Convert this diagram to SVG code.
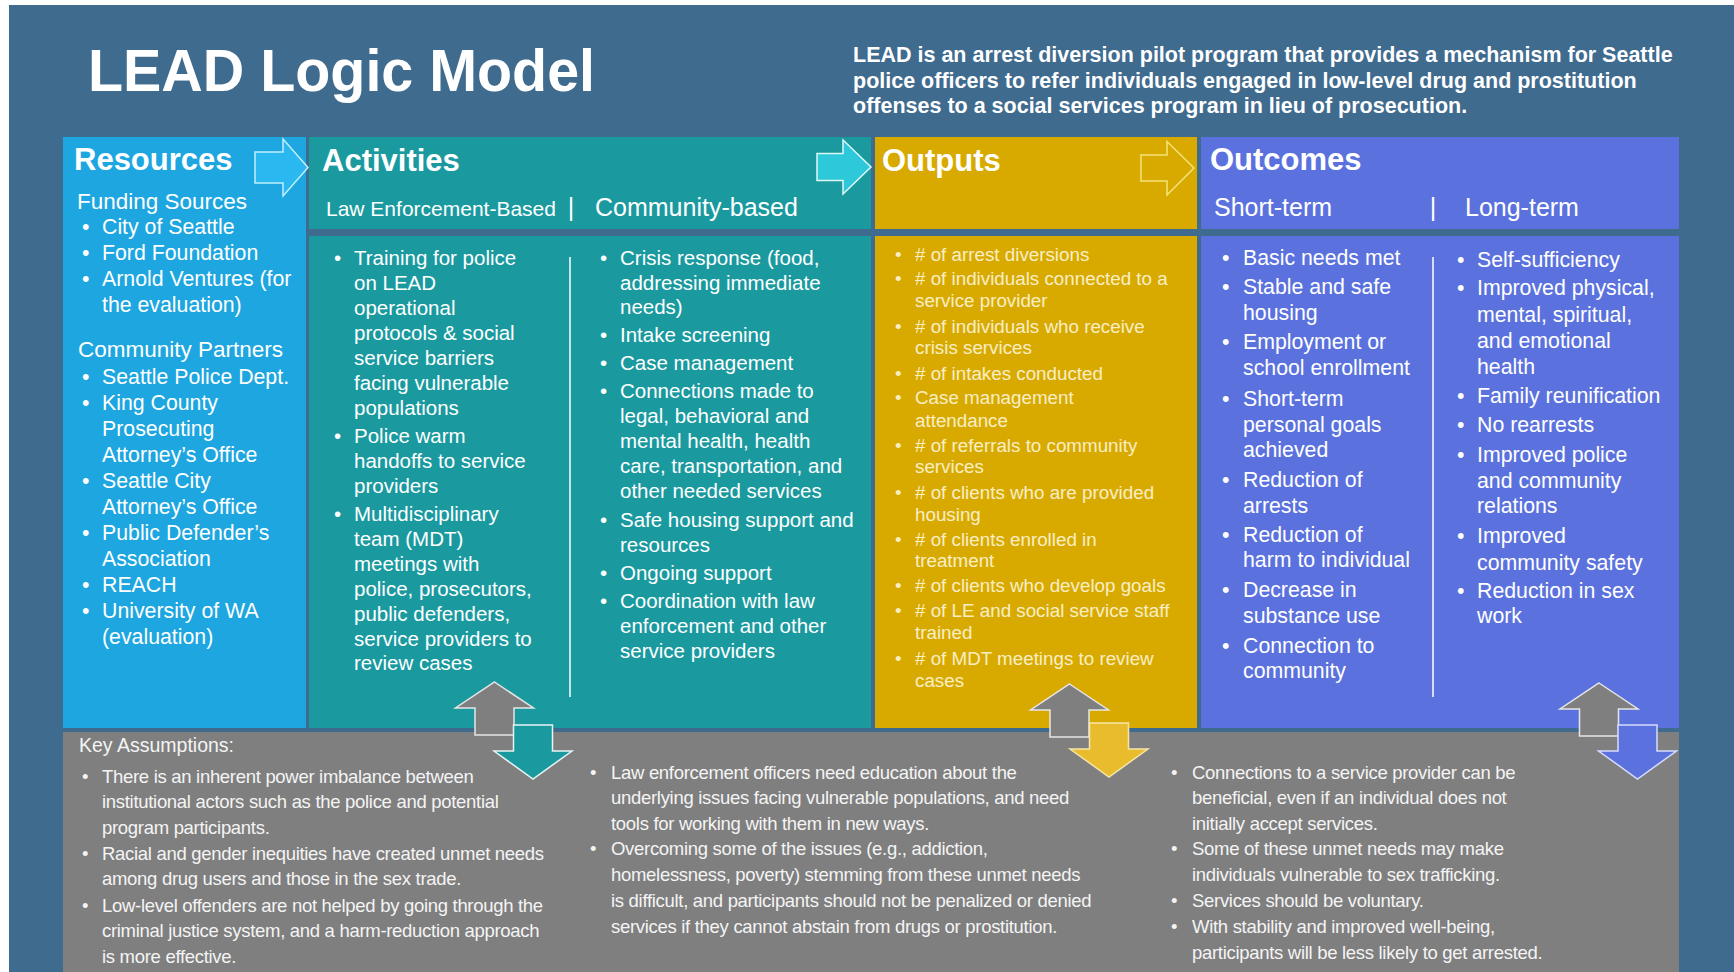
<svg xmlns="http://www.w3.org/2000/svg" width="1734" height="972" viewBox="0 0 1734 972">
<defs>
<style>
text{font-family:"Liberation Sans",Arial,sans-serif;fill:#FFFFFF}
.title{font-size:60px;font-weight:bold}
.desc{font-size:21.5px;font-weight:bold}
.hdr{font-size:31px;font-weight:bold}
.sub{font-size:22.5px}
.sub2{font-size:21px}
.sub3{font-size:25px}
.res{font-size:21.3px}
.act{font-size:20.5px}
.out{font-size:18.8px;fill:#F8EEC6}
.oc{font-size:21.3px}
.ka{font-size:18.5px;letter-spacing:-0.3px;fill:#F4F4F4}
.kah{font-size:19.5px;fill:#F4F4F4}
.sep{stroke:#FFFFFF;stroke-width:1.5}
.up{fill:#7F7F7F;stroke:#E6E6E6;stroke-width:1.5}
</style>
</defs>
<rect x="0" y="0" width="1734" height="972" fill="#FFFFFF"/>
<rect x="9" y="5" width="1725" height="967" fill="#3F6B8F"/>

<g id="title">
<text class="title" x="88" y="91" textLength="507" lengthAdjust="spacingAndGlyphs">LEAD Logic Model</text>
</g>

<g id="description">
<text class="desc" x="853" y="62">LEAD is an arrest diversion pilot program that provides a mechanism for Seattle</text>
<text class="desc" x="853" y="87.5">police officers to refer individuals engaged in low-level drug and prostitution</text>
<text class="desc" x="853" y="113">offenses to a social services program in lieu of prosecution.</text>
</g>

<g id="resources">
<rect x="63" y="137" width="243" height="591" fill="#1DA6E0"/>
<text class="hdr" x="74" y="170">Resources</text>
<text class="sub" x="77" y="209">Funding Sources</text>
<text class="res"><tspan x="82" y="234">•</tspan><tspan x="102" y="234">City of Seattle</tspan><tspan x="82" y="260">•</tspan><tspan x="102" y="260">Ford Foundation</tspan><tspan x="82" y="286">•</tspan><tspan x="102" y="286">Arnold Ventures (for</tspan><tspan x="102" y="312">the evaluation)</tspan></text>
<text class="sub" x="78" y="357">Community Partners</text>
<text class="res"><tspan x="82" y="384">•</tspan><tspan x="102" y="384">Seattle Police Dept.</tspan><tspan x="82" y="410">•</tspan><tspan x="102" y="410">King County</tspan><tspan x="102" y="436">Prosecuting</tspan><tspan x="102" y="462">Attorney’s Office</tspan><tspan x="82" y="488">•</tspan><tspan x="102" y="488">Seattle City</tspan><tspan x="102" y="514">Attorney’s Office</tspan><tspan x="82" y="540">•</tspan><tspan x="102" y="540">Public Defender’s</tspan><tspan x="102" y="566">Association</tspan><tspan x="82" y="592">•</tspan><tspan x="102" y="592">REACH</tspan><tspan x="82" y="618">•</tspan><tspan x="102" y="618">University of WA</tspan><tspan x="102" y="644">(evaluation)</tspan></text>
</g>

<g id="activities">
<rect x="309" y="137" width="562" height="92" fill="#1A9A9F"/>
<rect x="309" y="236" width="562" height="492" fill="#1A9A9F"/>
<text class="hdr" x="322" y="171">Activities</text>
<text class="sub2" x="326" y="216">Law Enforcement-Based</text>
<text class="sub3" x="571" y="216" text-anchor="middle">|</text>
<text class="sub3" x="595" y="216">Community-based</text>
<line class="sep" x1="570" y1="257" x2="570" y2="697"/>
<text class="act"><tspan x="334" y="265">•</tspan><tspan x="354" y="265">Training for police</tspan><tspan x="354" y="290">on LEAD</tspan><tspan x="354" y="315">operational</tspan><tspan x="354" y="340">protocols &amp; social</tspan><tspan x="354" y="365">service barriers</tspan><tspan x="354" y="390">facing vulnerable</tspan><tspan x="354" y="415">populations</tspan><tspan x="334" y="442.5">•</tspan><tspan x="354" y="442.5">Police warm</tspan><tspan x="354" y="467.5">handoffs to service</tspan><tspan x="354" y="492.5">providers</tspan><tspan x="334" y="521">•</tspan><tspan x="354" y="521">Multidisciplinary</tspan><tspan x="354" y="546">team (MDT)</tspan><tspan x="354" y="571">meetings with</tspan><tspan x="354" y="596">police, prosecutors,</tspan><tspan x="354" y="621">public defenders,</tspan><tspan x="354" y="645.5">service providers to</tspan><tspan x="354" y="670">review cases</tspan></text>
<text class="act"><tspan x="600" y="265">•</tspan><tspan x="620" y="265">Crisis response (food,</tspan><tspan x="620" y="289.5">addressing immediate</tspan><tspan x="620" y="314">needs)</tspan><tspan x="600" y="342">•</tspan><tspan x="620" y="342">Intake screening</tspan><tspan x="600" y="370">•</tspan><tspan x="620" y="370">Case management</tspan><tspan x="600" y="398">•</tspan><tspan x="620" y="398">Connections made to</tspan><tspan x="620" y="423">legal, behavioral and</tspan><tspan x="620" y="448">mental health, health</tspan><tspan x="620" y="473">care, transportation, and</tspan><tspan x="620" y="498">other needed services</tspan><tspan x="600" y="526.5">•</tspan><tspan x="620" y="526.5">Safe housing support and</tspan><tspan x="620" y="551.5">resources</tspan><tspan x="600" y="580">•</tspan><tspan x="620" y="580">Ongoing support</tspan><tspan x="600" y="608">•</tspan><tspan x="620" y="608">Coordination with law</tspan><tspan x="620" y="633">enforcement and other</tspan><tspan x="620" y="658">service providers</tspan></text>
</g>

<g id="outputs">
<rect x="875" y="137" width="322" height="92" fill="#D8AA00"/>
<rect x="875" y="236" width="322" height="492" fill="#D8AA00"/>
<text class="hdr" x="882" y="171">Outputs</text>
<text class="out"><tspan x="895" y="261">•</tspan><tspan x="915" y="261"># of arrest diversions</tspan><tspan x="895" y="285">•</tspan><tspan x="915" y="285"># of individuals connected to a</tspan><tspan x="915" y="307">service provider</tspan><tspan x="895" y="333">•</tspan><tspan x="915" y="333"># of individuals who receive</tspan><tspan x="915" y="354">crisis services</tspan><tspan x="895" y="380">•</tspan><tspan x="915" y="380"># of intakes conducted</tspan><tspan x="895" y="404">•</tspan><tspan x="915" y="404">Case management</tspan><tspan x="915" y="426.5">attendance</tspan><tspan x="895" y="451.5">•</tspan><tspan x="915" y="451.5"># of referrals to community</tspan><tspan x="915" y="473">services</tspan><tspan x="895" y="499">•</tspan><tspan x="915" y="499"># of clients who are provided</tspan><tspan x="915" y="520.5">housing</tspan><tspan x="895" y="546">•</tspan><tspan x="915" y="546"># of clients enrolled in</tspan><tspan x="915" y="567">treatment</tspan><tspan x="895" y="591.5">•</tspan><tspan x="915" y="591.5"># of clients who develop goals</tspan><tspan x="895" y="617">•</tspan><tspan x="915" y="617"># of LE and social service staff</tspan><tspan x="915" y="639">trained</tspan><tspan x="895" y="665">•</tspan><tspan x="915" y="665"># of MDT meetings to review</tspan><tspan x="915" y="687">cases</tspan></text>
</g>

<g id="outcomes">
<rect x="1201" y="137" width="478" height="92" fill="#5B72DE"/>
<rect x="1201" y="236" width="478" height="492" fill="#5B72DE"/>
<text class="hdr" x="1210" y="170">Outcomes</text>
<text class="sub3" x="1214" y="216">Short-term</text>
<text class="sub3" x="1433" y="216" text-anchor="middle">|</text>
<text class="sub3" x="1465" y="216">Long-term</text>
<line class="sep" x1="1433" y1="257" x2="1433" y2="697"/>
<text class="oc"><tspan x="1222" y="265">•</tspan><tspan x="1243" y="265">Basic needs met</tspan><tspan x="1222" y="294">•</tspan><tspan x="1243" y="294">Stable and safe</tspan><tspan x="1243" y="320">housing</tspan><tspan x="1222" y="349">•</tspan><tspan x="1243" y="349">Employment or</tspan><tspan x="1243" y="375">school enrollment</tspan><tspan x="1222" y="406">•</tspan><tspan x="1243" y="406">Short-term</tspan><tspan x="1243" y="431.5">personal goals</tspan><tspan x="1243" y="457">achieved</tspan><tspan x="1222" y="486.5">•</tspan><tspan x="1243" y="486.5">Reduction of</tspan><tspan x="1243" y="512.5">arrests</tspan><tspan x="1222" y="541.5">•</tspan><tspan x="1243" y="541.5">Reduction of</tspan><tspan x="1243" y="567">harm to individual</tspan><tspan x="1222" y="597">•</tspan><tspan x="1243" y="597">Decrease in</tspan><tspan x="1243" y="622.5">substance use</tspan><tspan x="1222" y="652.5">•</tspan><tspan x="1243" y="652.5">Connection to</tspan><tspan x="1243" y="678">community</tspan></text>
<text class="oc"><tspan x="1457" y="266.5">•</tspan><tspan x="1477" y="266.5">Self-sufficiency</tspan><tspan x="1457" y="295">•</tspan><tspan x="1477" y="295">Improved physical,</tspan><tspan x="1477" y="321.5">mental, spiritual,</tspan><tspan x="1477" y="347.5">and emotional</tspan><tspan x="1477" y="373.5">health</tspan><tspan x="1457" y="402.5">•</tspan><tspan x="1477" y="402.5">Family reunification</tspan><tspan x="1457" y="431.5">•</tspan><tspan x="1477" y="431.5">No rearrests</tspan><tspan x="1457" y="461.5">•</tspan><tspan x="1477" y="461.5">Improved police</tspan><tspan x="1477" y="488">and community</tspan><tspan x="1477" y="513">relations</tspan><tspan x="1457" y="543">•</tspan><tspan x="1477" y="543">Improved</tspan><tspan x="1477" y="570">community safety</tspan><tspan x="1457" y="598">•</tspan><tspan x="1477" y="598">Reduction in sex</tspan><tspan x="1477" y="623">work</tspan></text>
</g>

<g id="key-assumptions">
<rect x="63" y="732" width="1616" height="240" fill="#7F7F7F"/>
<text class="kah" x="79" y="752">Key Assumptions:</text>
<text class="ka"><tspan x="82" y="783">•</tspan><tspan x="102" y="783">There is an inherent power imbalance between</tspan><tspan x="102" y="808">institutional actors such as the police and potential</tspan><tspan x="102" y="834">program participants.</tspan><tspan x="82" y="860">•</tspan><tspan x="102" y="860">Racial and gender inequities have created unmet needs</tspan><tspan x="102" y="885">among drug users and those in the sex trade.</tspan><tspan x="82" y="911.5">•</tspan><tspan x="102" y="911.5">Low-level offenders are not helped by going through the</tspan><tspan x="102" y="937">criminal justice system, and a harm-reduction approach</tspan><tspan x="102" y="963">is more effective.</tspan></text>
<text class="ka"><tspan x="590" y="778.5">•</tspan><tspan x="611" y="778.5">Law enforcement officers need education about the</tspan><tspan x="611" y="804">underlying issues facing vulnerable populations, and need</tspan><tspan x="611" y="829.5">tools for working with them in new ways.</tspan><tspan x="590" y="855">•</tspan><tspan x="611" y="855">Overcoming some of the issues (e.g., addiction,</tspan><tspan x="611" y="880.5">homelessness, poverty) stemming from these unmet needs</tspan><tspan x="611" y="906.5">is difficult, and participants should not be penalized or denied</tspan><tspan x="611" y="932.5">services if they cannot abstain from drugs or prostitution.</tspan></text>
<text class="ka"><tspan x="1171" y="778.5">•</tspan><tspan x="1192" y="778.5">Connections to a service provider can be</tspan><tspan x="1192" y="804">beneficial, even if an individual does not</tspan><tspan x="1192" y="829.5">initially accept services.</tspan><tspan x="1171" y="855">•</tspan><tspan x="1192" y="855">Some of these unmet needs may make</tspan><tspan x="1192" y="880.5">individuals vulnerable to sex trafficking.</tspan><tspan x="1171" y="907">•</tspan><tspan x="1192" y="907">Services should be voluntary.</tspan><tspan x="1171" y="933">•</tspan><tspan x="1192" y="933">With stability and improved well-being,</tspan><tspan x="1192" y="959">participants will be less likely to get arrested.</tspan></text>
</g>

<g id="connectors">
<polygon points="255,152 283,152 283,139 308,167.5 283,196 283,183 255,183" fill="#2BB8F0" stroke="#BDEFFF" stroke-width="1.5"/>
<polygon points="817,153.5 843,153.5 843,140 871,167 843,194 843,180.5 817,180.5" fill="#2DC8D9" stroke="#DDF8F8" stroke-width="1.5"/>
<polygon points="1141,155 1167,155 1167,141.5 1194,168 1167,195 1167,181 1141,181" fill="#D8AA00" stroke="#F6E27A" stroke-width="1.5"/>
<polygon class="up" points="494.5,682 533.5,708 514,708 514,735 475,735 475,708 455.5,708"/>
<polygon points="513.5,725 552.5,725 552.5,751 572,751 533,779 494,751 513.5,751" fill="#1A9A9F" stroke="#E6F4F4" stroke-width="1.5"/>
<polygon class="up" points="1069.5,684 1108.5,710 1089,710 1089,737 1050,737 1050,710 1030.5,710"/>
<polygon points="1089.5,723 1128.5,723 1128.5,749 1148,749 1109,777 1070,749 1089.5,749" fill="#E8BC2C" stroke="#F5E6A8" stroke-width="1.5"/>
<polygon class="up" points="1599,683 1638,709 1618.5,709 1618.5,736 1579.5,736 1579.5,709 1560,709"/>
<polygon points="1618,725 1657,725 1657,751 1676.5,751 1637.5,779 1598.5,751 1618,751" fill="#5B72DE" stroke="#D6DCFF" stroke-width="1.5"/>
</g>
</svg>
